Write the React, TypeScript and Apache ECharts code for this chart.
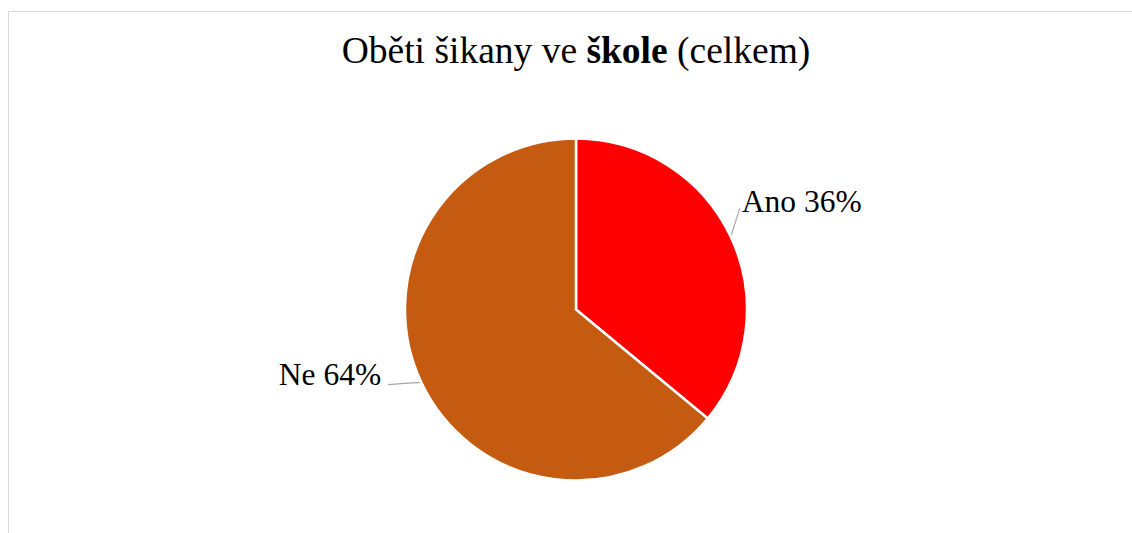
import React, { useEffect, useRef } from "react";
import * as echarts from "echarts";

const categories = ["Ano", "Ne"];
const values = [36, 64];
const colors = ["#FF0000", "#C55A11"];
const labelShifts = [
  { dx: -8, dy: -31 },
  { dx: -21, dy: -12 },
];

const FONT = "Liberation Serif";

export default function App() {
  const ref = useRef<HTMLDivElement>(null);
  useEffect(() => {
    if (!ref.current) return;
    const chart = echarts.init(ref.current, undefined, { renderer: "svg" });
    chart.setOption({
      animation: false,
      backgroundColor: "#ffffff",
      title: {
        text: "{a|Oběti šikany ve }{b|škole}{a| (celkem)}",
        left: 571,
        textAlign: "center",
        top: 26,
        textStyle: {
          fontFamily: FONT,
          rich: {
            a: { fontFamily: FONT, fontSize: 37.5, color: "#000", fontWeight: "normal" },
            b: { fontFamily: FONT, fontSize: 37.5, color: "#000", fontWeight: "bold" },
          },
        },
      },
      textStyle: { fontFamily: FONT },
      graphic: [
        {
          type: "rect",
          shape: { x: 8.5, y: 11.5, width: 1200, height: 600 },
          style: { fill: "none", stroke: "#d9d9d9", lineWidth: 1 },
          silent: true,
        },
      ],
      series: [
        {
          type: "pie",
          center: [576, 309.5],
          radius: [0, 171],
          startAngle: 90,
          clockwise: true,
          data: categories.map((c, i) => ({
            name: c,
            value: values[i],
            itemStyle: { color: colors[i] },
          })),
          itemStyle: { borderColor: "#ffffff", borderWidth: 2.5 },
          label: {
            show: true,
            position: "outside",
            formatter: (p: any) => `${p.name} ${p.value}%`,
            fontFamily: FONT,
            fontSize: 31.5,
            lineHeight: 26,
            color: "#000",
          },
          labelLine: {
            show: true,
            length: 10,
            length2: 5,
            lineStyle: { color: "#a6a6a6", width: 1.2 },
          },
          labelLayout: (params: any) => {
            const s = labelShifts[params.dataIndex];
            const r = params.labelRect;
            const start = params.labelLinePoints[0];
            const baseY = r.y + s.dy + r.height / 2 + 10;
            const end =
              params.dataIndex === 0
                ? [r.x + s.dx - 2, baseY - 3]
                : [r.x + s.dx + r.width + 7, baseY];
            const mid = [(start[0] + end[0]) / 2, (start[1] + end[1]) / 2];
            return { dx: s.dx, dy: s.dy, labelLinePoints: [start, mid, end] };
          },
          emphasis: { disabled: true },
        },
      ],
    });
    return () => chart.dispose();
  }, []);
  return (
    <div
      ref={ref}
      style={{ position: "fixed", left: 0, top: 0, width: 1132, height: 533 }}
    />
  );
}
